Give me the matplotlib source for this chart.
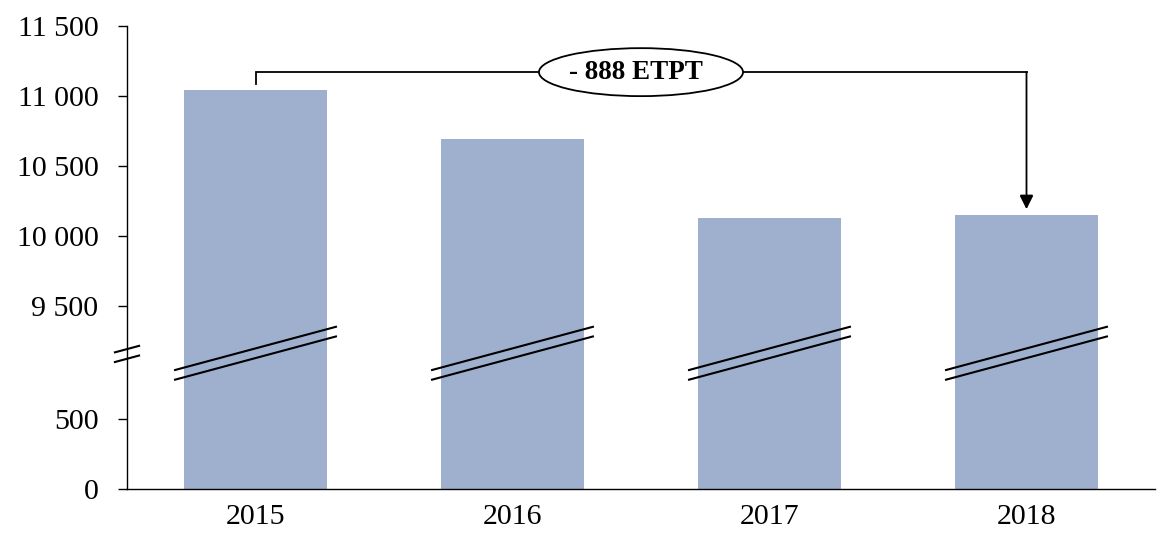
import matplotlib
matplotlib.use("Agg")
import matplotlib.pyplot as plt
from matplotlib.patches import Ellipse

# ---- data ----
years = ["2015", "2016", "2017", "2018"]
etpt = [11040, 10692, 10129, 10152]
ytick_values = [0, 500, 9500, 10000, 10500, 11000, 11500]
ytick_labels = ["0", "500", "9 500", "10 000", "10 500", "11 000", "11 500"]

# broken axis: values above the break are shifted down
BREAK_LOW = 500
BREAK_HIGH = 9500
GAP = 800


def f(v):
    return v if v <= BREAK_LOW else v - BREAK_HIGH + BREAK_LOW + GAP


plt.rcParams['font.family'] = ['Liberation Serif', 'DejaVu Serif']

fig = plt.figure(figsize=(11.68, 5.51), dpi=100)
ax = fig.add_axes([127 / 1168, 62.3 / 551, 1028 / 1168, 463 / 551])

bar_color = "#9eb0ce"
xs = list(range(len(years)))
bar_w = 0.553
ax.bar(xs, [f(v) for v in etpt], width=bar_w, color=bar_color, zorder=2)

ax.set_xlim(-0.5, len(years) - 0.5)
ax.set_ylim(0, f(11500))
ax.set_yticks([f(v) for v in ytick_values])
ax.set_yticklabels(ytick_labels)
ax.set_xticks(xs)
ax.set_xticklabels(years)
ax.tick_params(axis='y', length=6.5, width=1.0, pad=14, labelsize=21.5, direction='out')
ax.tick_params(axis='x', length=0, pad=11, labelsize=21.5)
for s in ['top', 'right']:
    ax.spines[s].set_visible(False)
for s in ['left', 'bottom']:
    ax.spines[s].set_linewidth(1.0)

# break marks
slope = 492  # display units per category
lines_y = [1000, 931]
for yc in lines_y:
    dx = 0.047
    ya = yc - 5
    ax.plot([-0.5 - dx, -0.5 + dx], [ya - slope * dx, ya + slope * dx],
            color='black', lw=1.5, clip_on=False, zorder=4)
    for x in xs:
        hw = 0.313
        ax.plot([x - hw, x + hw], [yc - slope * hw, yc + slope * hw],
                color='black', lw=1.5, zorder=4)

# annotation bracket
top_line = f(etpt[0] + 129)
stub_bottom = f(etpt[0] + 44)
arrow_end = f(etpt[-1] + 40)
ax.plot([0, 0, 3], [stub_bottom, top_line, top_line], color='black', lw=1.3, zorder=3,
        solid_joinstyle='miter')
ax.annotate('', xy=(3, arrow_end), xytext=(3, top_line),
            arrowprops=dict(arrowstyle='-|>,head_length=0.4,head_width=0.2', lw=1.3,
                            color='black', mutation_scale=21, shrinkA=0, shrinkB=0,
                            joinstyle='miter'), zorder=3)
ell = Ellipse((1.5, top_line), 0.794, 342, facecolor='white', edgecolor='black', lw=1.3, zorder=5)
ax.add_patch(ell)
diff = etpt[0] - etpt[-1]
ax.text(1.48, top_line, f"- {diff} ETPT", ha='center', va='center', fontsize=19.5,
        fontweight='bold', zorder=6)

fig.savefig("out.png", dpi=100)
